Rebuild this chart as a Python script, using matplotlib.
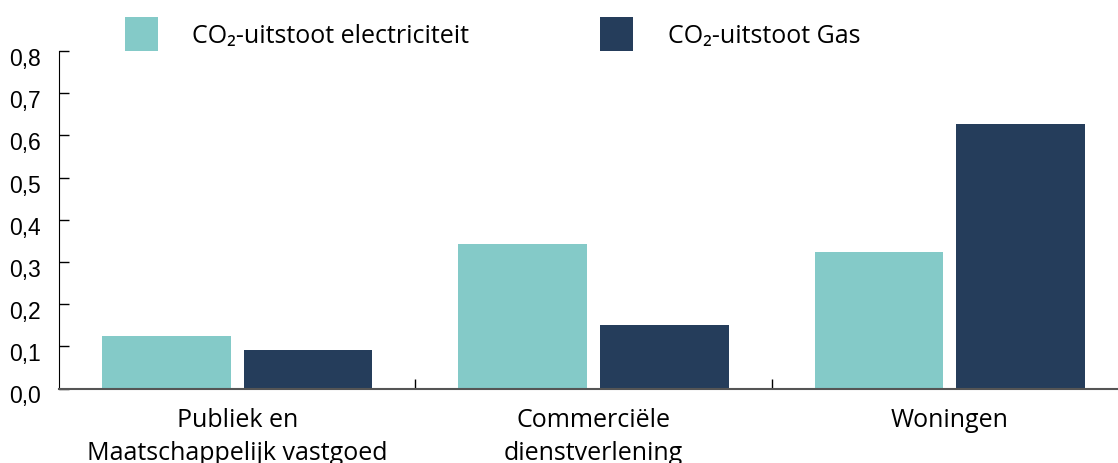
import matplotlib
matplotlib.use('Agg')
import matplotlib.pyplot as plt
from matplotlib.ticker import FuncFormatter, FixedLocator
from matplotlib.patches import Patch
from matplotlib.transforms import ScaledTranslation

categories = ['Publiek en\nMaatschappelijk vastgoed', 'Commerciële\ndienstverlening', 'Woningen']
electricity = [0.124, 0.342, 0.323]
gas = [0.091, 0.150, 0.627]
series_names = ['CO₂-uitstoot electriciteit', 'CO₂-uitstoot Gas']
teal = '#84CAC8'
navy = '#253D5B'
txt_font = ['Open Sans', 'DejaVu Sans']

fig = plt.figure(figsize=(11.18, 4.64), dpi=100)
ax = fig.add_axes([59 / 1118, 74.5 / 464, 1069 / 1118, 337.5 / 464])

x = range(len(categories))
w = 0.361
off = 0.199
ax.bar([i - off for i in x], electricity, width=w, color=teal)
ax.bar([i + off for i in x], gas, width=w, color=navy)

ax.set_xlim(-0.5, 2.5)
ax.set_ylim(0, 0.8)
ax.set_yticks([i / 10 for i in range(9)])
ax.yaxis.set_major_formatter(FuncFormatter(lambda v, p: f'{v:.1f}'.replace('.', ',')))
ax.tick_params(axis='y', direction='in', length=7, width=1, labelsize=16.5, pad=13)
shift = ScaledTranslation(0, -5 / 100, fig.dpi_scale_trans)
for lbl in ax.get_yticklabels():
    lbl.set_family(['Liberation Sans', 'DejaVu Sans'])
    lbl.set_transform(lbl.get_transform() + shift)

ax.set_xticks(list(x))
ax.set_xticklabels(categories, family=txt_font, fontsize=18, linespacing=1.45)
ax.tick_params(axis='x', which='major', length=0, pad=13)
ax.xaxis.set_minor_locator(FixedLocator([0.5, 1.5]))
ax.tick_params(axis='x', which='minor', direction='in', length=7, width=1, color='black')

for s in ['top', 'right']:
    ax.spines[s].set_visible(False)
ax.spines['left'].set_color('black')
ax.spines['bottom'].set_color('#555555')
ax.spines['bottom'].set_linewidth(1.5)

handles = [Patch(facecolor=teal), Patch(facecolor=navy)]
fig.legend(handles, series_names, loc='upper left', bbox_to_anchor=(102 / 1118, 1.01),
           ncol=2, frameon=False, handlelength=1.32, handleheight=1.72,
           handletextpad=1.4, columnspacing=5.2,
           prop={'family': txt_font, 'size': 18})

fig.savefig('out.png', dpi=100)
